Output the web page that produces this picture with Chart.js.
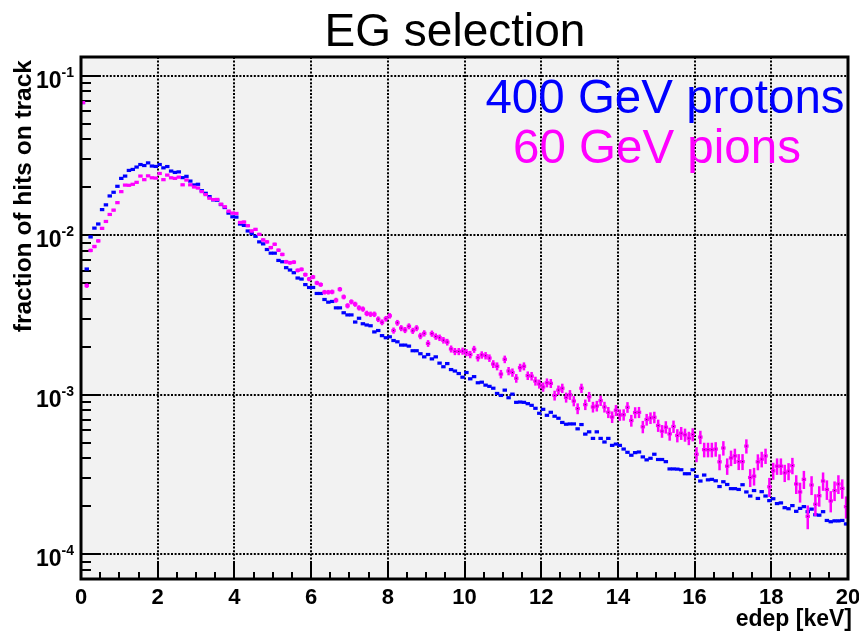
<!DOCTYPE html>
<html>
<head>
<meta charset="utf-8">
<script src="https://cdn.jsdelivr.net/npm/chart.js@4.4.0/dist/chart.umd.min.js"></script>
<style>
  html, body { margin: 0; padding: 0; background: #fff; }
  canvas { display: block; }
</style>
</head>
<body>
<canvas id="egChart" width="859" height="632"></canvas>
<script>
// histogram: 200 bins of 0.1 keV from 0 to 20 keV
const binStart = 0;
const binWidth = 0.1;

// 400 GeV protons (blue), fraction per bin
const protons400 = [
  0.068, 0.00615, 0.00977, 0.0111, 0.01178, 0.0145, 0.01553, 0.01766, 0.01862, 0.0203,
  0.02275, 0.02353, 0.02553, 0.0259, 0.0268, 0.0278, 0.0274, 0.02846, 0.0272, 0.02704,
  0.0278, 0.0265, 0.0270, 0.0253, 0.0248, 0.0250, 0.0230, 0.02344, 0.02189, 0.0207,
  0.0209, 0.01906, 0.01836, 0.0175, 0.01668, 0.0166, 0.0156, 0.01494, 0.01378, 0.01307,
  0.01301, 0.01177, 0.01154, 0.01065, 0.01025, 0.00986, 0.00910, 0.00884, 0.00815, 0.00773,
  0.00773, 0.00696, 0.00683, 0.00627, 0.00606, 0.00583, 0.00540, 0.00532, 0.00491, 0.00471,
  0.00471, 0.00432, 0.00432, 0.00396, 0.00381, 0.00385, 0.00351, 0.00351, 0.00327, 0.00317,
  0.00317, 0.00286, 0.00302, 0.00279, 0.00274, 0.00271, 0.00248, 0.00253, 0.00235, 0.00228,
  0.00231, 0.00219, 0.00215, 0.00205, 0.00205, 0.00202, 0.00189, 0.00189, 0.00181, 0.00173,
  0.00179, 0.00168, 0.00173, 0.00158, 0.00150, 0.00157, 0.00144, 0.00141, 0.00136, 0.00129,
  0.00138, 0.00126, 0.00130, 0.00119, 0.00120, 0.00115, 0.00113, 0.00110, 0.00102, 0.000991,
  0.00107, 0.000959, 0.00101, 0.000897, 0.000901, 0.000897, 0.000880, 0.000859, 0.000823, 0.000766,
  0.000811, 0.000744, 0.000777, 0.000734, 0.000713, 0.000671, 0.000654, 0.000657, 0.000657, 0.000612,
  0.000651, 0.000567, 0.000586, 0.000533, 0.000586, 0.000533, 0.000506, 0.000533, 0.000482, 0.000491,
  0.000482, 0.000457, 0.000436, 0.000418, 0.000434, 0.000438, 0.000408, 0.000391, 0.000400, 0.000424,
  0.000393, 0.000393, 0.000381, 0.000343, 0.000343, 0.000342, 0.000339, 0.000320, 0.000320, 0.000339,
  0.000308, 0.000288, 0.000314, 0.000293, 0.000295, 0.000289, 0.000266, 0.000285, 0.000274, 0.000258,
  0.000258, 0.000255, 0.000273, 0.000246, 0.000232, 0.000251, 0.000224, 0.000247, 0.000232, 0.000217,
  0.000223, 0.000208, 0.000210, 0.000196, 0.000193, 0.000202, 0.000186, 0.000194, 0.000199, 0.000185,
  0.000192, 0.000177, 0.000176, 0.000185, 0.000163, 0.000160, 0.000162, 0.000162, 0.000163, 0.000155
];

// 60 GeV pions (magenta), fraction per bin
const pions60 = [
  0.068, 0.00484, 0.00804, 0.00851, 0.00923, 0.01106, 0.01222, 0.01352, 0.01439, 0.01603,
  0.01879, 0.02066, 0.0206, 0.0209, 0.0215, 0.02354, 0.02234, 0.0236, 0.02295, 0.02286,
  0.02443, 0.02234, 0.02387, 0.02295, 0.02275, 0.02317, 0.02074, 0.02223, 0.02074, 0.0201,
  0.0198, 0.0188, 0.0180, 0.0171, 0.01676, 0.0168, 0.01568, 0.0151, 0.01418, 0.01378,
  0.01372, 0.01205, 0.01212, 0.01149, 0.01065, 0.01090, 0.01014, 0.00936, 0.00910, 0.00838,
  0.00879, 0.00807, 0.00759, 0.00683, 0.00673, 0.00679, 0.00603, 0.00612, 0.00567, 0.00532,
  0.00548, 0.00503, 0.00491, 0.00440, 0.00440, 0.00442, 0.00392, 0.00459, 0.00411, 0.00362,
  0.00383, 0.00370, 0.00351, 0.00345, 0.00324, 0.00320, 0.00320, 0.00298, 0.00285, 0.00300,
  0.00313, 0.00253, 0.00283, 0.00262, 0.00255, 0.00269, 0.00252, 0.00262, 0.00234, 0.00243,
  0.00210, 0.00242, 0.00232, 0.00228, 0.00220, 0.00214, 0.00194, 0.00187, 0.00187, 0.00188,
  0.00184, 0.00179, 0.00193, 0.00171, 0.00178, 0.00176, 0.00170, 0.00156, 0.00151, 0.00135,
  0.00167, 0.00141, 0.00138, 0.00127, 0.00148, 0.00151, 0.00132, 0.00131, 0.00122, 0.00117,
  0.00112, 0.00119, 0.00118, 0.000991, 0.00107, 0.00110, 0.000963, 0.00100, 0.000914, 0.000820,
  0.00110, 0.000868, 0.000973, 0.000839, 0.000851, 0.000919, 0.000839, 0.000777, 0.000726, 0.000800,
  0.000748, 0.000750, 0.000835, 0.000690, 0.000774, 0.000777, 0.000630, 0.000700, 0.000716, 0.000723,
  0.000642, 0.000592, 0.000627, 0.000569, 0.000633, 0.000556, 0.000575, 0.000561, 0.000535, 0.000564,
  0.000424, 0.000543, 0.000453, 0.000453, 0.000453, 0.000457, 0.000380, 0.000464, 0.000357, 0.000402,
  0.000414, 0.000381, 0.000381, 0.000477, 0.000303, 0.000309, 0.000380, 0.000395, 0.000414, 0.000265,
  0.000334, 0.000357, 0.000357, 0.000324, 0.000332, 0.000360, 0.000276, 0.000246, 0.000295, 0.000173,
  0.000272, 0.000206, 0.000233, 0.000288, 0.000255, 0.000216, 0.000251, 0.000276, 0.000259, 0.000199
];

// approx. number of entries behind each histogram (sets the poisson error bars)
const protonEntries = 2e7;
const pionEntries = 2e5;

const xTickValues = [0, 2, 4, 6, 8, 10, 12, 14, 16, 18, 20];
const yTickExponents = [-1, -2, -3, -4];

const chartTitle = 'EG selection';
const xTitle = 'edep [keV]';
const yTitle = 'fraction of hits on track';
const legendLabels = ['400 GeV protons', '60 GeV pions'];
const seriesColors = ['#0000ff', '#ff00ff'];

const FONT = '"Liberation Sans", Arial, Helvetica, sans-serif';

function toPoints(values) {
    return values.map((v, i) => ({ x: binStart + binWidth * (i + 0.5), y: v }));
}

// ROOT-like frame, grid, axes, markers with error bars
const rootStyle = {
    id: 'rootStyle',
    beforeDraw(chart) {
        const { ctx, chartArea: a } = chart;
        const xs = chart.scales.x, ys = chart.scales.y;
        ctx.save();
        ctx.fillStyle = '#ffffff';
        ctx.fillRect(0, 0, chart.width, chart.height);
        ctx.fillStyle = '#f2f2f2';
        ctx.fillRect(a.left, a.top, a.right - a.left, a.bottom - a.top);

        // dotted grid
        ctx.strokeStyle = '#000';
        ctx.lineWidth = 2;
        ctx.setLineDash([2, 1.6]);
        xTickValues.forEach(v => {
            const px = Math.round(xs.getPixelForValue(v));
            ctx.beginPath();
            ctx.moveTo(px, a.top);
            ctx.lineTo(px, a.bottom);
            ctx.stroke();
        });
        yTickExponents.forEach(e => {
            const py = Math.round(ys.getPixelForValue(Math.pow(10, e)));
            ctx.beginPath();
            ctx.moveTo(a.left, py);
            ctx.lineTo(a.right, py);
            ctx.stroke();
        });
        ctx.setLineDash([]);

        // ticks
        ctx.lineWidth = 2;
        for (let k = 0; k <= 40; k++) {
            const v = k * 0.5;
            const px = Math.round(xs.getPixelForValue(v));
            const len = (k % 4 === 0) ? 16 : 7;
            ctx.beginPath();
            ctx.moveTo(px, a.bottom);
            ctx.lineTo(px, a.bottom - len);
            ctx.stroke();
        }
        for (let d = -5; d <= -1; d++) {
            for (let m = 1; m <= 9; m++) {
                const v = m * Math.pow(10, d);
                if (v < ys.min || v > ys.max) continue;
                const py = Math.round(ys.getPixelForValue(v));
                const len = (m === 1) ? 19 : 10;
                ctx.beginPath();
                ctx.moveTo(a.left, py);
                ctx.lineTo(a.left + len, py);
                ctx.stroke();
            }
        }
        ctx.restore();
    },
    afterDatasetsDraw(chart) {
        const { ctx, chartArea: a } = chart;
        const xs = chart.scales.x, ys = chart.scales.y;
        const entries = [protonEntries, pionEntries];
        const halfBin = (xs.getPixelForValue(binWidth) - xs.getPixelForValue(0)) / 2;

        ctx.save();
        ctx.beginPath();
        ctx.rect(a.left, a.top, a.right - a.left, a.bottom - a.top);
        ctx.clip();
        chart.data.datasets.forEach((ds, di) => {
            const meta = chart.getDatasetMeta(di);
            ctx.fillStyle = seriesColors[di];
            ctx.strokeStyle = seriesColors[di];
            meta.data.forEach((pt, i) => {
                const v = ds.data[i].y;
                const rel = 1 / Math.sqrt(v * entries[di]);
                const yHi = ys.getPixelForValue(v * (1 + rel));
                const yLo = ys.getPixelForValue(Math.max(v * (1 - rel), ys.min));
                ctx.lineWidth = di === 1 ? 2.5 : 2;
                ctx.beginPath();
                ctx.moveTo(pt.x, yHi);
                ctx.lineTo(pt.x, yLo);
                ctx.stroke();
                ctx.fillRect(pt.x - halfBin - 0.3, pt.y - 1.6, halfBin * 2 + 0.6, 3.2);
                if (di === 1 && rel > 0.04) {
                    ctx.fillStyle = '#5a005a';
                    ctx.fillRect(pt.x - 0.5, pt.y - 0.5, 1, 1);
                    ctx.fillStyle = seriesColors[di];
                }
            });
        });
        ctx.restore();

        ctx.save();
        // frame
        ctx.strokeStyle = '#000';
        ctx.lineWidth = 3;
        ctx.strokeRect(a.left, a.top, a.right - a.left, a.bottom - a.top);

        // tick labels
        ctx.fillStyle = '#000';
        ctx.font = 'bold 22px ' + FONT;
        ctx.textAlign = 'center';
        ctx.textBaseline = 'alphabetic';
        xTickValues.forEach(v => {
            ctx.fillText(String(v), xs.getPixelForValue(v), 604);
        });
        yTickExponents.forEach(e => {
            const py = ys.getPixelForValue(Math.pow(10, e));
            const sup = String(e);
            ctx.font = 'bold 14px ' + FONT;
            const supW = ctx.measureText(sup).width;
            const supX = 74 - supW;
            ctx.textAlign = 'left';
            ctx.fillText(sup, supX, py + 1);
            ctx.font = 'bold 23px ' + FONT;
            ctx.textAlign = 'right';
            ctx.fillText('10', supX, py + 12);
        });

        // axis titles
        ctx.font = 'bold 23px ' + FONT;
        ctx.textAlign = 'right';
        ctx.fillText(xTitle, 852, 626);

        ctx.save();
        ctx.translate(31, 60);
        ctx.rotate(-Math.PI / 2);
        ctx.font = 'bold 24.5px ' + FONT;
        ctx.textAlign = 'right';
        ctx.fillText(yTitle, 0, 0);
        ctx.restore();

        // title
        ctx.font = '46px ' + FONT;
        ctx.textAlign = 'center';
        ctx.fillText(chartTitle, 455, 46);

        // legend text
        ctx.font = '47.5px ' + FONT;
        ctx.fillStyle = seriesColors[0];
        ctx.fillText(legendLabels[0], 665, 113);
        ctx.fillStyle = seriesColors[1];
        ctx.fillText(legendLabels[1], 657, 163);
        ctx.restore();
    }
};

const chart = new Chart(document.getElementById('egChart').getContext('2d'), {
    type: 'scatter',
    data: {
        datasets: [
            { label: legendLabels[0], data: toPoints(protons400), pointRadius: 0, showLine: false },
            { label: legendLabels[1], data: toPoints(pions60), pointRadius: 0, showLine: false }
        ]
    },
    options: {
        responsive: false,
        devicePixelRatio: 1,
        animation: false,
        layout: { padding: { left: 81, top: 57, right: 11, bottom: 53 } },
        plugins: { legend: { display: false }, tooltip: { enabled: false }, title: { display: false } },
        scales: {
            x: { type: 'linear', min: 0, max: 20, display: false },
            y: { type: 'logarithmic', min: 7.43e-5, max: 0.1313, display: false }
        }
    },
    plugins: [rootStyle]
});
</script>
</body>
</html>
